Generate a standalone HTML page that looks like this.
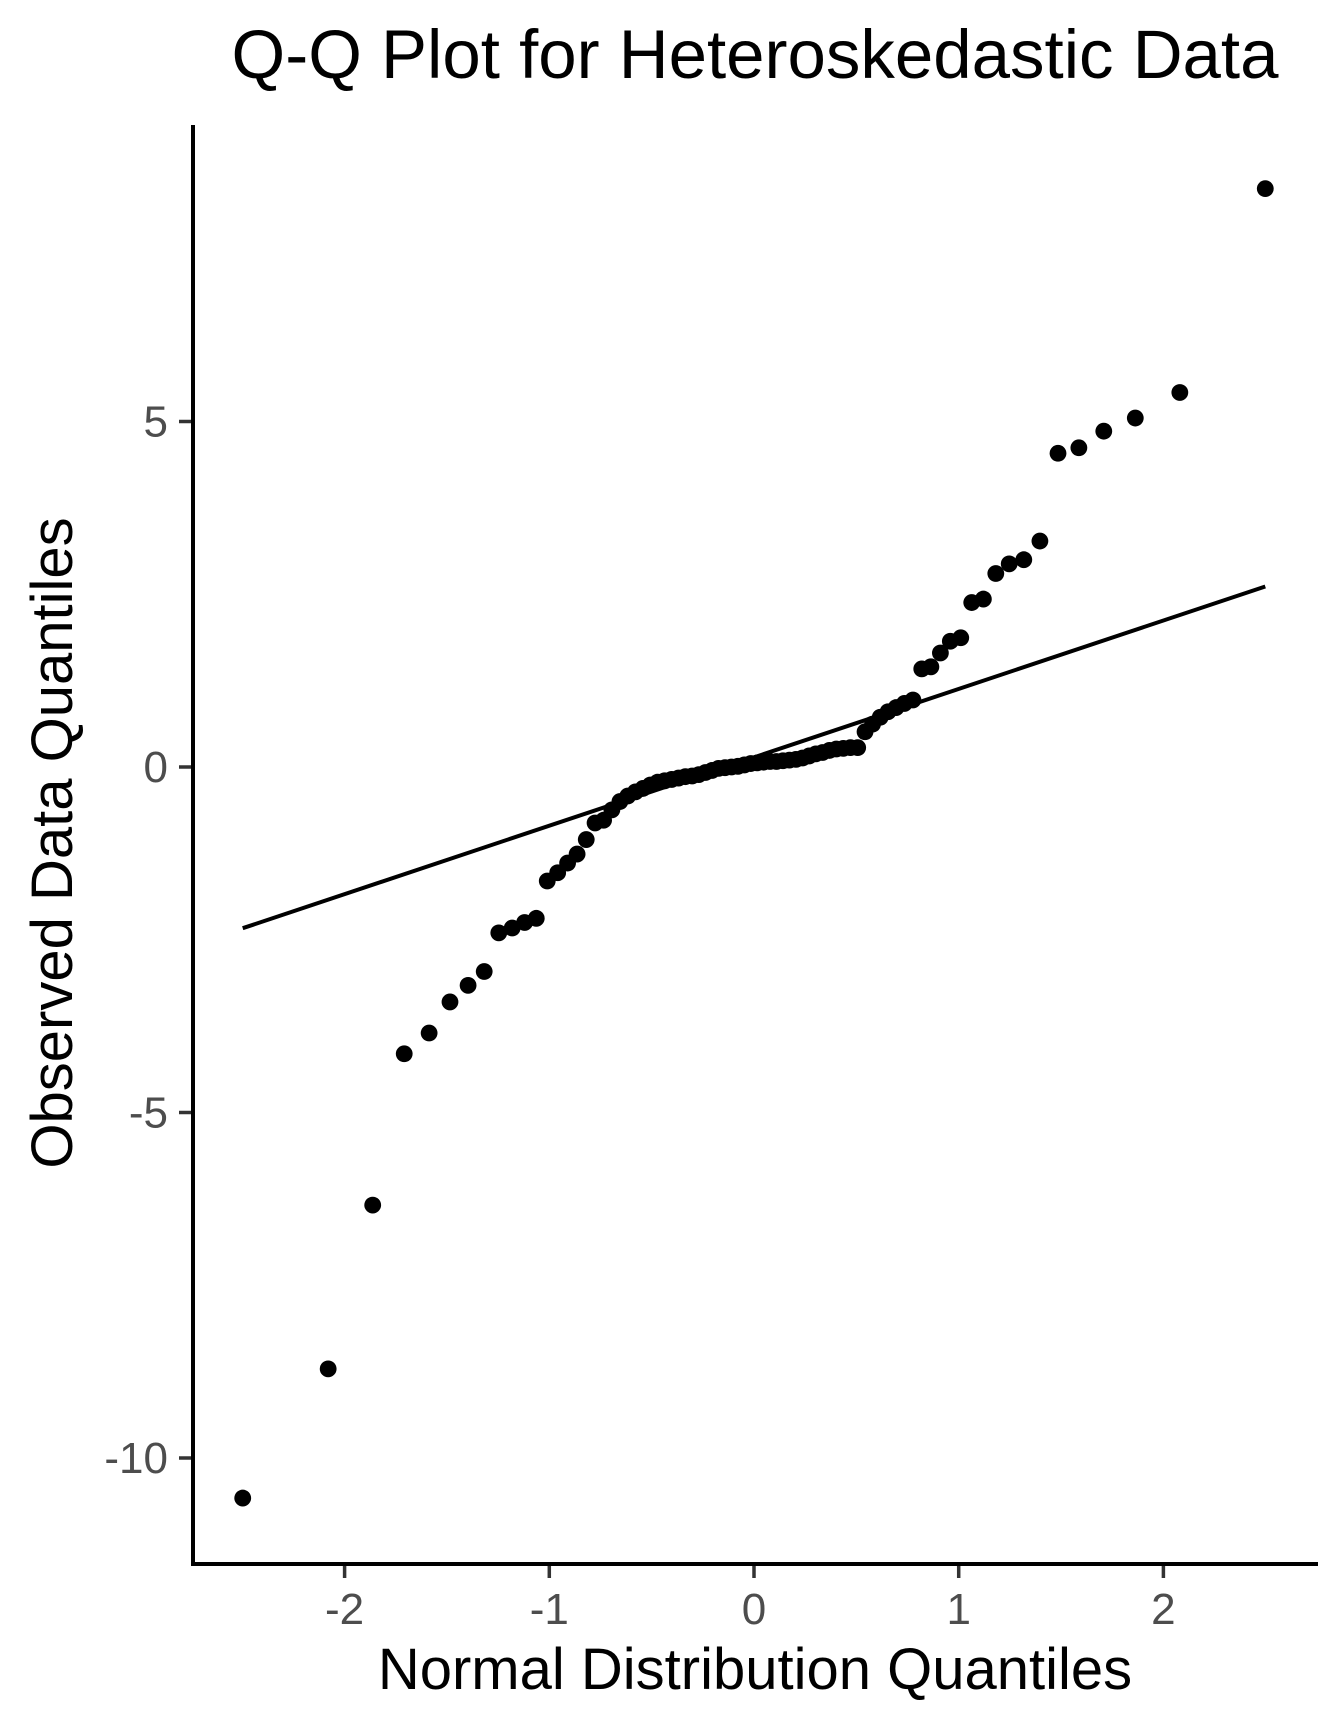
<!DOCTYPE html>
<html><head><meta charset="utf-8"><style>
html,body{margin:0;padding:0;background:#fff;}
svg{display:block;font-family:"Liberation Sans",sans-serif;}
</style></head><body>
<svg id="chart" width="1344" height="1728" viewBox="0 0 1344 1728">
<rect width="1344" height="1728" fill="#fff"/>
<text x="755" y="78" font-size="69" text-anchor="middle" fill="#000">Q-Q Plot for Heteroskedastic Data</text>
<text x="755" y="1689" font-size="58" text-anchor="middle" fill="#000">Normal Distribution Quantiles</text>
<text transform="translate(72,843) rotate(-90)" font-size="58" text-anchor="middle" fill="#000">Observed Data Quantiles</text>
<g id="marks"></g>
<g id="axes"></g>
</svg>
<script>
const observed = [-10.58,-8.71,-6.34,-4.15,-3.85,-3.40,-3.16,-2.96,-2.40,-2.33,-2.25,-2.19,-1.65,-1.53,-1.39,-1.26,-1.05,-0.81,-0.77,
-0.62,-0.50,-0.42,-0.36,-0.31,-0.26,-0.22,-0.20,-0.18,-0.16,-0.14,-0.13,-0.11,-0.08,-0.05,-0.02,-0.01,0.00,0.01,0.03,0.05,0.06,0.07,0.08,0.08,0.09,0.10,0.11,0.13,0.16,0.19,0.21,0.24,0.26,0.27,0.28,0.28,
0.51,0.62,0.72,0.80,0.86,0.92,0.97,1.42,1.45,1.65,1.82,1.87,2.38,2.43,2.80,2.94,3.00,3.27,4.54,4.62,4.86,5.05,5.42,8.37];
const xTicks = [-2,-1,0,1,2];
const yTicks = [5,0,-5,-10];
const refLine = {intercept:0.14, slope:0.99};

function qnorm(p){
  const a=[-3.969683028665376e+01,2.209460984245205e+02,-2.759285104469687e+02,1.383577518672690e+02,-3.066479806614716e+01,2.506628277459239e+00];
  const b=[-5.447609879822406e+01,1.615858368580409e+02,-1.556989798598866e+02,6.680131188771972e+01,-1.328068155288572e+01];
  const c=[-7.784894002430293e-03,-3.223964580411365e-01,-2.400758277161838e+00,-2.549732539343734e+00,4.374664141464968e+00,2.938163982698783e+00];
  const d=[7.784695709041462e-03,3.224671290700398e-01,2.445134137142996e+00,3.754408661907416e+00];
  const pl=0.02425;let q,r;
  if(p<pl){q=Math.sqrt(-2*Math.log(p));return (((((c[0]*q+c[1])*q+c[2])*q+c[3])*q+c[4])*q+c[5])/((((d[0]*q+d[1])*q+d[2])*q+d[3])*q+1);}
  if(p>1-pl){q=Math.sqrt(-2*Math.log(1-p));return -(((((c[0]*q+c[1])*q+c[2])*q+c[3])*q+c[4])*q+c[5])/((((d[0]*q+d[1])*q+d[2])*q+d[3])*q+1);}
  q=p-0.5;r=q*q;return (((((a[0]*r+a[1])*r+a[2])*r+a[3])*r+a[4])*r+a[5])*q/(((((b[0]*r+b[1])*r+b[2])*r+b[3])*r+b[4])*r+1);
}
const X0=754, XS=204.7, Y0=767, YS=69.1;
const sx=v=>X0+v*XS, sy=v=>Y0-v*YS;
const NS="http://www.w3.org/2000/svg";
const marks=document.getElementById('marks'), axes=document.getElementById('axes');
function mk(tag,attrs,parent){const e=document.createElementNS(NS,tag);for(const k in attrs)e.setAttribute(k,attrs[k]);parent.appendChild(e);return e;}
const n=observed.length;
const theo=observed.map((_,i)=>qnorm((i+0.5)/n));
const lx1=theo[0], lx2=theo[n-1];
const line=mk('line',{x1:sx(lx1),y1:sy(refLine.intercept+refLine.slope*lx1),x2:sx(lx2),y2:sy(refLine.intercept+refLine.slope*lx2),stroke:'#000','stroke-width':4},marks);


observed.forEach((v,i)=>{
  const c=mk('circle',{cx:sx(theo[i]),cy:sy(v),r:8.4,fill:'#000'},marks);
  
  
});
const yl=mk('line',{x1:193,y1:125,x2:193,y2:1566,stroke:'#000','stroke-width':4},axes);


const xl=mk('line',{x1:191,y1:1564,x2:1318,y2:1564,stroke:'#000','stroke-width':4},axes);


xTicks.forEach(t=>{
  const tk=mk('line',{x1:sx(t),y1:1566,x2:sx(t),y2:1578,stroke:'#333','stroke-width':3.5},axes);
  
  
  const tx=mk('text',{x:sx(t),y:1624,'font-size':44,'text-anchor':'middle',fill:'#4d4d4d'},axes);
  tx.textContent=String(t);
  
  
});
yTicks.forEach(t=>{
  const tk=mk('line',{x1:179,y1:sy(t),x2:191,y2:sy(t),stroke:'#333','stroke-width':3.5},axes);
  
  
  const tx=mk('text',{x:168,y:sy(t)+15,'font-size':44,'text-anchor':'end',fill:'#4d4d4d'},axes);
  tx.textContent=String(t);
  
  
});
</script>
</body></html>
